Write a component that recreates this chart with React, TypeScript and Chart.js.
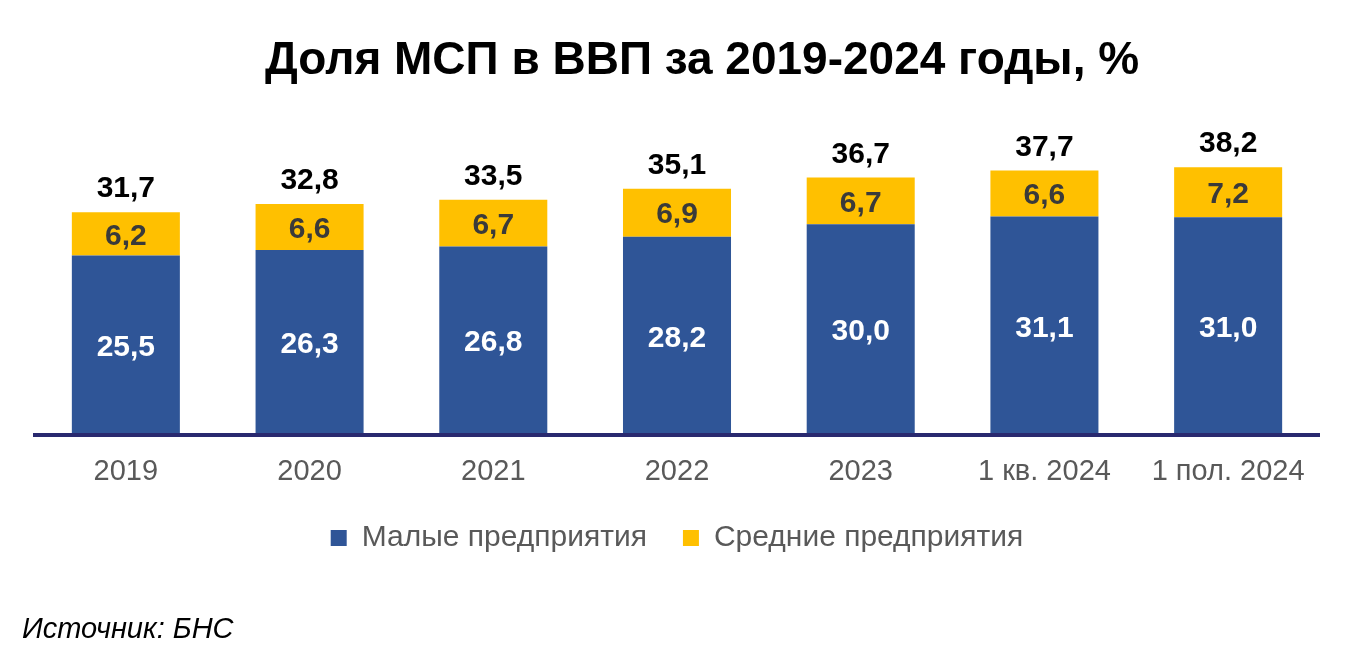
import React, { useEffect, useRef } from 'react';
import { Chart, registerables } from 'chart.js';

Chart.register(...registerables);

const categories = ['2019', '2020', '2021', '2022', '2023', '1 кв. 2024', '1 пол. 2024'];
const smallEnterprises = [25.5, 26.3, 26.8, 28.2, 30.0, 31.1, 31.0];
const mediumEnterprises = [6.2, 6.6, 6.7, 6.9, 6.7, 6.6, 7.2];
const totals = [31.7, 32.8, 33.5, 35.1, 36.7, 37.7, 38.2];
const seriesNames = ['Малые предприятия', 'Средние предприятия'];
const titleText = 'Доля МСП в ВВП за 2019-2024 годы, %';
const sourceText = 'Источник: БНС';

const FONT = "'Liberation Sans', Arial, Helvetica, sans-serif";
const BLUE = '#2F5597';
const YELLOW = '#FFC000';
const AXIS = '#29296F';

const fmt = (v: number) => v.toFixed(1).replace('.', ',');

const decorPlugin = {
  id: 'decor',
  afterDatasetsDraw(chart: any) {
    const ctx = chart.ctx as CanvasRenderingContext2D;
    const { left, right, bottom } = chart.chartArea;
    ctx.save();
    // axis line
    ctx.strokeStyle = AXIS;
    ctx.lineWidth = 4;
    ctx.beginPath();
    ctx.moveTo(left - 1, bottom + 2);
    ctx.lineTo(right, bottom + 2);
    ctx.stroke();

    ctx.textAlign = 'center';
    ctx.textBaseline = 'alphabetic';
    const size = 30;
    ctx.font = `bold ${size}px ${FONT}`;
    const m0 = chart.getDatasetMeta(0).data;
    const m1 = chart.getDatasetMeta(1).data;
    m0.forEach((bar: any, i: number) => {
      const cy = (bar.y + bar.base) / 2;
      ctx.fillStyle = '#FFFFFF';
      ctx.fillText(fmt(smallEnterprises[i]), bar.x, cy + size * 0.358 + 1);
    });
    m1.forEach((bar: any, i: number) => {
      const cy = (bar.y + bar.base) / 2;
      ctx.fillStyle = '#3A3A3A';
      ctx.fillText(fmt(mediumEnterprises[i]), bar.x, cy + size * 0.358);
      ctx.fillStyle = '#000000';
      ctx.fillText(fmt(totals[i]), bar.x, bar.y - 15);
    });
    ctx.restore();
  },
  afterDraw(chart: any) {
    const ctx = chart.ctx as CanvasRenderingContext2D;
    ctx.save();
    ctx.fillStyle = '#000000';
    ctx.textAlign = 'center';
    ctx.textBaseline = 'alphabetic';
    ctx.font = `bold 46px ${FONT}`;
    ctx.fillText(titleText, 702, 73.5);
    ctx.textAlign = 'left';
    ctx.font = `italic 29px ${FONT}`;
    ctx.fillText(sourceText, 22, 638);
    ctx.restore();
  },
};

export default function App() {
  const ref = useRef<HTMLCanvasElement | null>(null);

  useEffect(() => {
    if (!ref.current) return;
    const chart = new Chart(ref.current, {
      type: 'bar',
      data: {
        labels: categories,
        datasets: [
          {
            label: seriesNames[0],
            data: smallEnterprises,
            backgroundColor: BLUE,
            borderWidth: 0,
            categoryPercentage: 1,
            barPercentage: 0.588,
          },
          {
            label: seriesNames[1],
            data: mediumEnterprises,
            backgroundColor: YELLOW,
            borderWidth: 0,
            categoryPercentage: 1,
            barPercentage: 0.588,
          },
        ],
      },
      options: {
        animation: false,
        responsive: true,
        maintainAspectRatio: false,
        layout: { padding: { top: 85, left: 34, right: 31, bottom: 100 } },
        font: { family: FONT },
        scales: {
          x: {
            stacked: true,
            grid: { display: false, drawTicks: false },
            border: { display: false },
            ticks: {
              color: '#595959',
              font: { family: FONT, size: 29 },
              padding: 22,
              maxRotation: 0,
              autoSkip: false,
            },
            afterFit: (s: any) => {
              s.height = 54;
            },
          },
          y: {
            stacked: true,
            display: false,
            min: 0,
            max: 50,
          },
        },
        plugins: {
          title: { display: false },
          tooltip: { enabled: false },
          legend: {
            display: true,
            position: 'bottom',
            labels: {
              color: '#595959',
              font: { family: FONT, size: 30 },
              boxWidth: 16,
              boxHeight: 16,
              padding: 36,
            },
          },
        },
      },
      plugins: [decorPlugin],
    } as any);
    return () => chart.destroy();
  }, []);

  return (
    <div style={{ position: 'fixed', left: 0, top: 0, width: 1351, height: 663, background: '#fff' }}>
      <canvas ref={ref} />
    </div>
  );
}
